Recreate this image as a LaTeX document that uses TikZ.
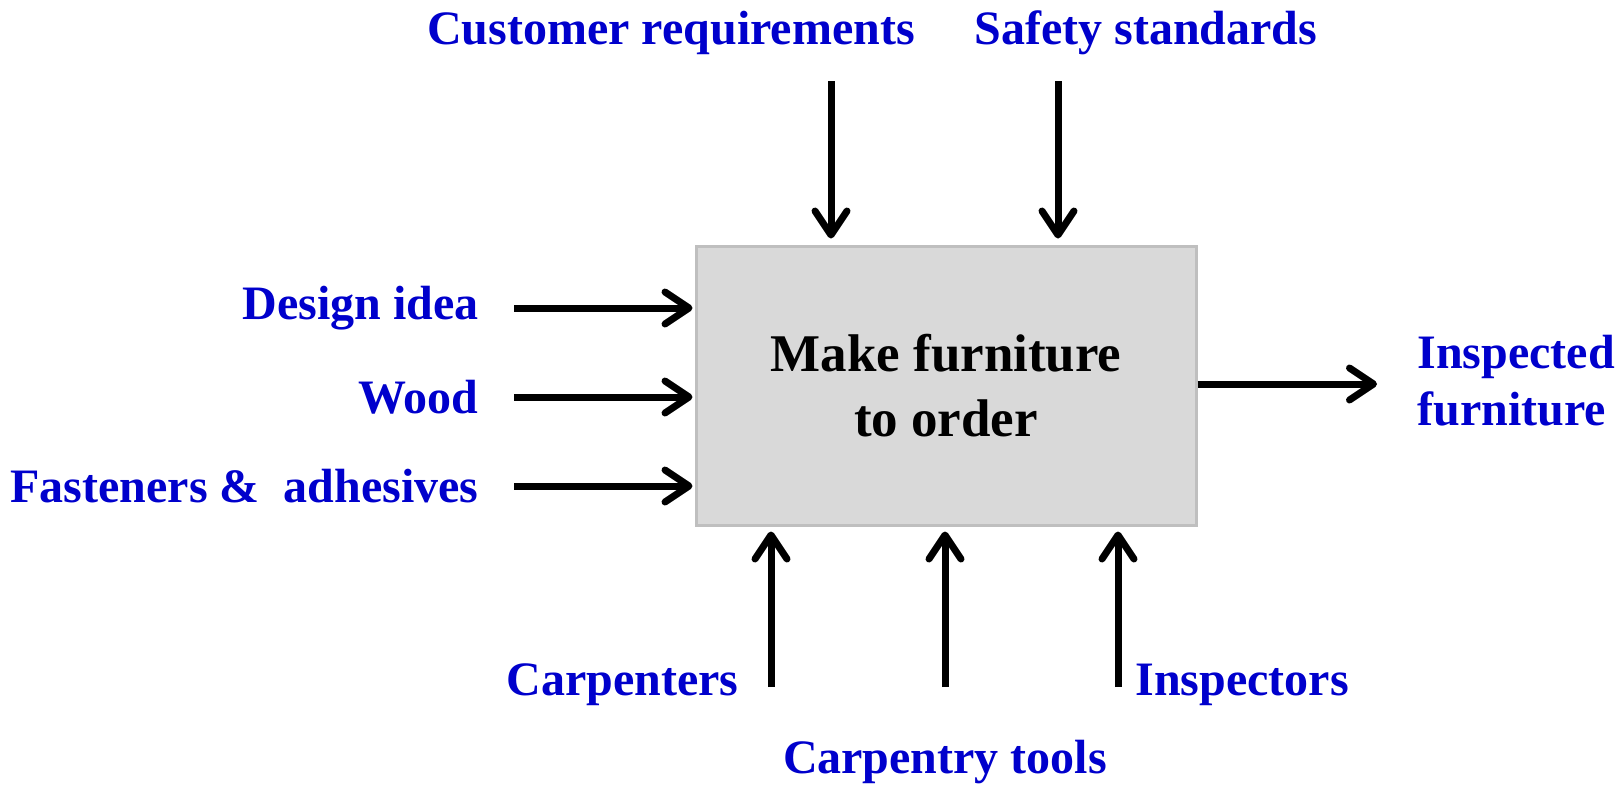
\documentclass[tikz,border=0pt]{standalone}
\usepackage{fontspec}
\setmainfont{Liberation Serif}
\usetikzlibrary{arrows.meta}
\definecolor{labelblue}{RGB}{0,0,204}
\definecolor{boxgray}{RGB}{217,217,217}
\definecolor{boxedge}{RGB}{191,191,191}
\tikzset{
  flowlabel/.style={text=labelblue,font=\fontsize{24}{28.5}\selectfont\bfseries,inner sep=0pt},
  flow/.style={line width=3.5pt,-{Straight Barb[length=12pt,width=16pt,line cap=round,line join=round]}}
}
\begin{document}
\begin{tikzpicture}[x=0.5pt,y=-0.5pt]
      \useasboundingbox (0,0) rectangle (1623,784);
      \node[draw=boxedge,line width=1.5pt,fill=boxgray,minimum width=250pt,minimum height=139.5pt,
        align=center,font=\fontsize{26.5}{32.5}\selectfont\bfseries] (box) at (946,385.5) {Make furniture\\to order};
      \draw
        (671,33) node[flowlabel] (cust){Customer requirements}
        (1146,33) node[flowlabel] (safety){Safety standards}
        (479,308) node[flowlabel,anchor=east] (design){Design idea}
        (479,397) node[flowlabel,anchor=east] (wood){Wood}
        (479,486) node[flowlabel,anchor=east] (fast){Fasteners \&\ \ adhesives}
        (1417,381) node[flowlabel,anchor=west,align=left] (result){Inspected\\furniture}
        (739,685) node[flowlabel,anchor=east] (carp){Carpenters}
        (1135,685) node[flowlabel,anchor=west] (insp){Inspectors}
        (945,762) node[flowlabel] (tools){Carpentry tools};
      \coordinate (cust in) at (831,81);
      \coordinate (safety in) at (1058,81);
      \coordinate (design in) at (514,308);
      \coordinate (wood in) at (514,397);
      \coordinate (fast in) at (514,486);
      \coordinate (result out) at (1377,384);
      \coordinate (carp in) at (771,687);
      \coordinate (tools in) at (945,687);
      \coordinate (insp in) at (1118,687);
      \begin{scope}[flow]
        \draw[shorten >=3pt] (cust in) to (cust in |- box.north);
        \draw[shorten >=3pt] (safety in) to (safety in |- box.north);
        \draw[shorten >=1pt] (design in) to (design in -| box.west);
        \draw[shorten >=1pt] (wood in) to (wood in -| box.west);
        \draw[shorten >=1pt] (fast in) to (fast in -| box.west);
        \draw (box.east |- result out) to (result out);
        \draw[shorten >=2.5pt] (carp in) to (carp in |- box.south);
        \draw[shorten >=2.5pt] (tools in) to (tools in |- box.south);
        \draw[shorten >=2.5pt] (insp in) to (insp in |- box.south);
      \end{scope}
    \end{tikzpicture}
\end{document}
